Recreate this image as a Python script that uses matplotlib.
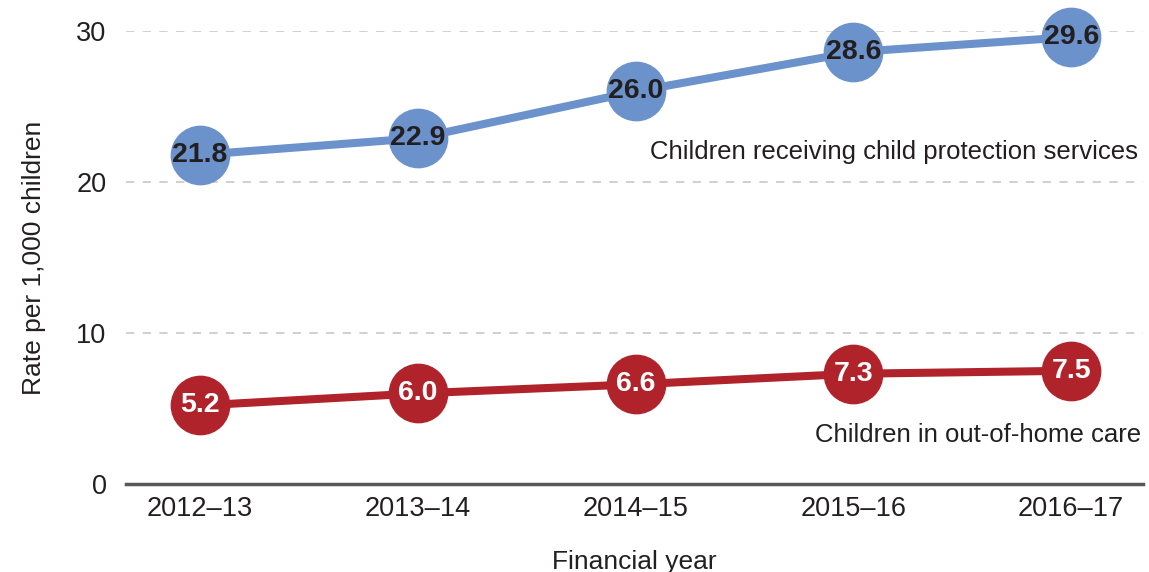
import matplotlib.pyplot as plt

years = ["2012–13", "2013–14", "2014–15", "2015–16", "2016–17"]
protection = [21.8, 22.9, 26.0, 28.6, 29.6]
out_of_home = [5.2, 6.0, 6.6, 7.3, 7.5]

blue = "#6b92cb"
red = "#b1232b"
ink = "#231f20"

plt.rcParams["font.family"] = ["Liberation Sans", "DejaVu Sans"]

fig = plt.figure(figsize=(11.49, 5.72), dpi=100)
ax = fig.add_axes([126 / 1149, 1 - 484 / 572, (1143 - 126) / 1149, (484 - 31) / 572])

x = list(range(len(years)))

ax.plot(x, protection, color=blue, lw=5.8, marker="o", ms=42, mec=blue, clip_on=False, zorder=3)
ax.plot(x, out_of_home, color=red, lw=5.8, marker="o", ms=42, mec=red, clip_on=False, zorder=3)

for xi, v in zip(x, protection):
    ax.text(xi, v, f"{v:.1f}", ha="center", va="center", fontsize=20.5, fontweight="bold", color=ink, zorder=4)
for xi, v in zip(x, out_of_home):
    ax.text(xi, v, f"{v:.1f}", ha="center", va="center", fontsize=20.5, fontweight="bold", color="white", zorder=4)

# series names sit under the last points, right aligned
ax.text(4.305, 22.0, "Children receiving child protection services", ha="right", va="center",
        fontsize=18.5, color=ink)
ax.text(4.32, 3.25, "Children in out-of-home care", ha="right", va="center", fontsize=18.5, color=ink)

ax.set_xlim(-0.34, 4.33)
ax.set_ylim(0, 30)
ax.set_yticks([0, 10, 20, 30])
ax.set_xticks(x)
ax.set_xticklabels(years)
ax.tick_params(length=0, labelsize=19.5, colors=ink)
ax.tick_params(axis="y", pad=14)
ax.tick_params(axis="x", pad=9)

for y in [10, 20, 30]:
    ax.axhline(y, color="#c8c8c8", lw=1.2, ls=(0, (5, 5)), zorder=1)

for s in ["top", "right", "left"]:
    ax.spines[s].set_visible(False)
ax.spines["bottom"].set_color("#58585a")
ax.spines["bottom"].set_linewidth(2.5)

ax.set_ylabel("Rate per 1,000 children", fontsize=19, color=ink, labelpad=22)
ax.set_xlabel("Financial year", fontsize=19, color=ink, labelpad=20)

fig.savefig("out.png", dpi=100)
